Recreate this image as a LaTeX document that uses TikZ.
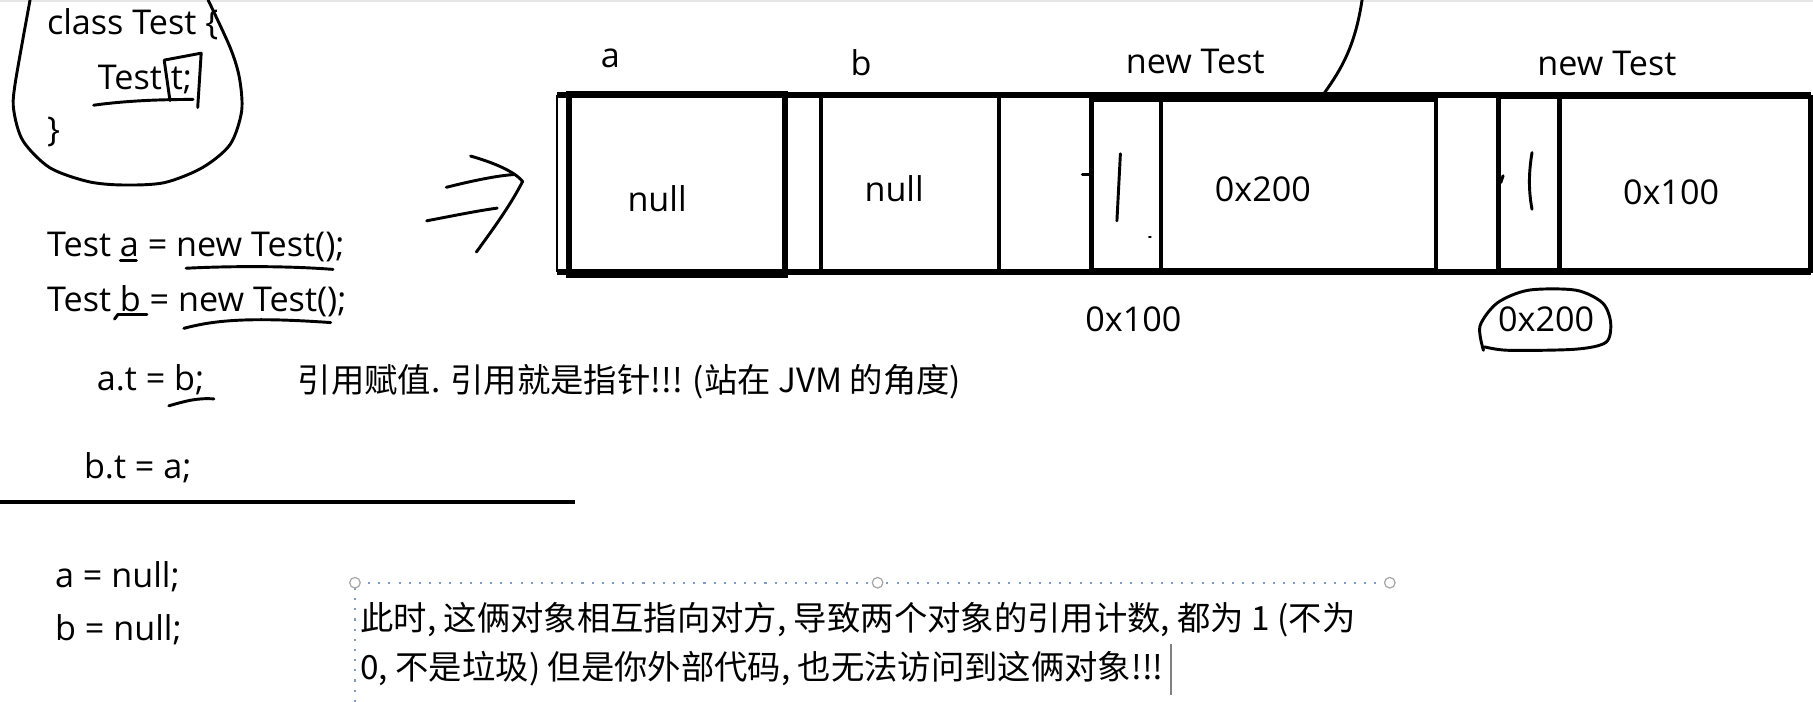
\documentclass[tikz,border=0pt]{standalone}
\usepackage{fontspec}
\setmainfont{Open Sans}
\newfontfamily\cjk{Noto Sans CJK SC}
\usepackage{tikz}
\usetikzlibrary{positioning}
\tikzstyle{code}=[inner sep=0pt,anchor=base west]
\tikzstyle{note}=[inner sep=0pt,anchor=west,font=\fontsize{8.2}{10}\selectfont\cjk]
\tikzstyle{hand}=[line width=0.72pt,line cap=round,line join=round]
\tikzstyle{band}=[line width=1.42pt]
\tikzstyle{cellbox}=[line width=1.14pt]
\tikzstyle{handle}=[circle,draw=gray!70,fill=white,line width=0.3pt,inner sep=0pt,minimum size=2.6pt]
\definecolor{selblue}{RGB}{125,155,195}

\begin{document}
\begin{tikzpicture}[x=0.01cm,y=-0.01cm,font=\fontsize{8.4}{10}\selectfont]
\useasboundingbox (0,0) rectangle (1568,607);
\draw[gray!20,line width=0.6pt] (0,1) -- (1568,1);
% code on the left
\node[code] (cls) at (40,30) {class Test \{};
\node[code] (fld) at (84,77) {Test t;};
\node[code] (cls end) at (40,122) {\}};
\node[code] (new a) at (40,222) {Test a = new Test();};
\node[code] (new b) at (40,269) {Test b = new Test();};
\node[code] (set a) at (83,338) {a.t = b;};
\node[code] (set b) at (72,414) {b.t = a;};
\node[code] (null a) at (47,508) {a = null;};
\node[code] (null b) at (47,554) {b = null;};
\node[note] (ref) at (257,330) {引用赋值. 引用就是指针!!! (站在 JVM 的角度)};
\draw[line width=0.85pt] (0,434) -- (497,434);
% strokes by hand
\draw[hand] plot[smooth] coordinates {(26,0) (13,73) (12,96) (20,122) (43,145) (76,157) (106,160) (142,158) (175,145) (199,125) (209,96) (207,67) (199,41) (180,0)};
\draw[hand] (81,91) .. controls (110,87) and (140,86) .. (167,86);
\draw[hand] (147,87) -- (142,52) -- (174,46) -- (171,93);
\draw[hand] (104,225) -- (118,225);
\draw[hand] (161,232) .. controls (200,230) and (250,230) .. (288,233);
\draw[hand] (99,276) -- (102,272) -- (127,272);
\draw[hand] (159,284) .. controls (185,277) and (215,274) .. (286,279);
\draw[hand] (146,351) .. controls (160,347) and (170,344) .. (185,345);
\draw[hand] (386,162) .. controls (410,156) and (430,152) .. (444,151);
\draw[hand] (369,191) .. controls (395,186) and (415,182) .. (430,180);
\draw[hand] (407,135) .. controls (425,140) and (445,148) .. (452,157) .. controls (440,180) and (425,200) .. (412,218);
% memory
\draw[band] (482,82) -- (1566,82) (482,235) -- (1566,235);
\draw[line width=0.57pt] (482,82) -- (482,235);
\draw[cellbox,line width=1.5pt] (492,81) rectangle (679,238);
\draw[cellbox] (710,82) rectangle (864,235);
\draw[cellbox] (944,86) rectangle (1242,234);
\draw[cellbox] (1004,86) -- (1004,234);
\draw[cellbox] (1296,84) rectangle (1566,234);
\draw[cellbox] (1349,84) -- (1349,234);
\node[code] (var a) at (519,58) {a};
\node[code] (var b) at (735,65) {b};
\node[code] (obj one) at (973,64) {new Test};
\node[code] (obj two) at (1329,65) {new Test};
\node[code] (val a) at (542,183) {null};
\node[code] (val b) at (747,174) {null};
\node[code] (val one) at (1050,174) {0x200};
\node[code] (val two) at (1403,177) {0x100};
\node[code] (adr one) at (938,287) {0x100};
\node[code] (adr two) at (1295,287) {0x200};
\draw[hand] (936,151) -- (944,151);
\draw[hand] (969,133) -- (966,191);
\draw[hand] (994,205) -- (995,205);
\draw[hand] (1300,152) -- (1298,158);
\draw[hand] (1325,132) .. controls (1322,150) and (1322,165) .. (1325,181);
\draw[hand] (1178,0) .. controls (1172,40) and (1160,60) .. (1145,81);
\draw[hand] plot[smooth] coordinates {(1283,303) (1280,282) (1295,262) (1322,251) (1363,251) (1386,262) (1393,279) (1389,296) (1363,302) (1305,303) (1284,300)};
% text box
\draw[selblue,dotted,line width=0.5pt] (307,607) -- (307,504) -- (1202,504);
\node[handle] (h1) at (307,504) {};
\node[handle] (h2) at (759,504) {};
\node[handle] (h3) at (1202,504) {};
\node[note] (why one) at (311,536) {此时, 这俩对象相互指向对方, 导致两个对象的引用计数, 都为 1 (不为};
\node[note] (why two) at (311,578) {0, 不是垃圾) 但是你外部代码, 也无法访问到这俩对象!!!};
\draw[gray,line width=0.4pt] (1013,557) -- (1013,601);
\end{tikzpicture}
\end{document}
